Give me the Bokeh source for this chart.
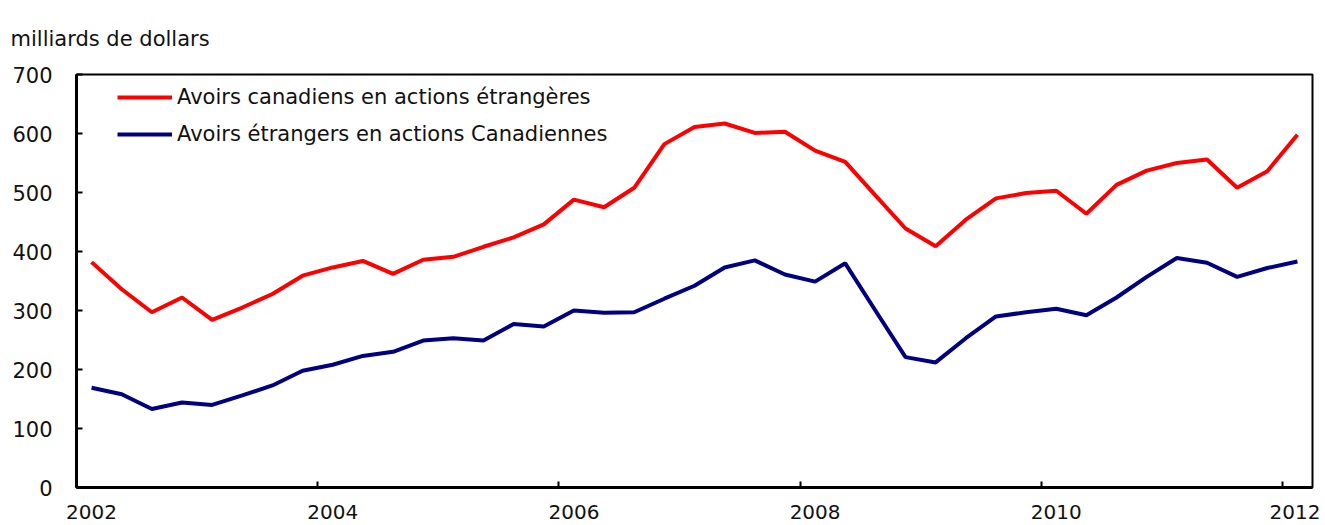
from bokeh.plotting import figure
from bokeh.models import (FixedTicker, Legend, LegendItem, Title,
                          Range1d, CustomJSTickFormatter)
from bokeh.embed import file_html
from bokeh.resources import INLINE

# ---- data (quarterly, 2002 Q1 to 2012 Q1), billions of dollars ----
start_year = 2002
n_quarters = 41
canadian_foreign = [382, 336, 297, 322, 284, 305, 328, 359, 373, 384, 362,
                    386, 391, 408, 424, 446, 488, 475, 508, 582, 611,
                    617, 601, 603, 571, 552, 495, 439, 409, 454, 490,
                    499, 503, 464, 513, 537, 550, 556, 508, 536, 598]
foreign_canadian = [169, 158, 133, 144, 140, 156, 173, 198, 208, 223, 230,
                    249, 253, 249, 277, 273, 300, 296, 297, 320, 342,
                    373, 385, 361, 349, 380, 300, 221, 212, 253, 290,
                    297, 303, 292, 322, 357, 389, 381, 357, 372, 383]
tick_years = [2002, 2004, 2006, 2008, 2010, 2012]
y_ticks = [0, 100, 200, 300, 400, 500, 600, 700]
name_red = "Avoirs canadiens en actions étrangères"
name_blue = "Avoirs étrangers en actions Canadiennes"
y_title = "milliards de dollars"

# quarter mid-points as fractional years
x = [start_year + i / 4 + 0.125 for i in range(n_quarters)]
label_pos = [y + 0.125 for y in tick_years]

FONT = "DejaVu Sans"
FS = "21px"

p = figure(width=1320, height=525, output_backend="svg", toolbar_location=None,
           x_range=Range1d(2002.0, 2012.25), y_range=Range1d(0, 700),
           min_border_left=76, min_border_right=8, min_border_top=74,
           min_border_bottom=38)
p.xgrid.visible = False
p.ygrid.visible = False
p.outline_line_color = "black"
p.outline_line_width = 2
p.background_fill_color = "white"
p.border_fill_color = "white"

xa = p.below[0]
ya = p.left[0]

# unit label above the y axis
t = Title(text=y_title, align="left", text_font=FONT, text_font_size=FS,
          text_font_style="normal", text_color="#111111", offset=-66,
          standoff=48)
p.add_layout(t, "above")

# y axis
ya.ticker = FixedTicker(ticks=y_ticks)
ya.axis_line_width = 3
ya.axis_line_color = "black"
ya.major_tick_in = 6
ya.major_tick_out = 0
ya.major_tick_line_width = 2
ya.minor_tick_line_color = None
ya.major_label_standoff = 24
ya.major_label_text_font = FONT
ya.major_label_text_font_size = FS
ya.major_label_text_color = "#111111"

# x axis: labels centred on first quarter of each year,
# tick marks (minor ticks) at year boundaries
xa.ticker = FixedTicker(ticks=label_pos, minor_ticks=tick_years)
xa.formatter = CustomJSTickFormatter(code="return String(Math.floor(tick));")
xa.axis_line_width = 3
xa.axis_line_color = "black"
xa.major_tick_line_color = None
xa.major_tick_in = 0
xa.major_tick_out = 0
xa.minor_tick_line_color = "black"
xa.minor_tick_line_width = 2
xa.minor_tick_in = 6
xa.minor_tick_out = 0
xa.major_label_standoff = 17
xa.major_label_text_font = FONT
xa.major_label_text_font_size = "20px"
xa.major_label_text_color = "#111111"

r1 = p.line(x, canadian_foreign, line_color="#FF0000", line_width=4)
r2 = p.line(x, foreign_canadian, line_color="#000080", line_width=4)

legend = Legend(items=[LegendItem(label=name_red, renderers=[r1]),
                       LegendItem(label=name_blue, renderers=[r2])],
                location=(41, 341), padding=0, margin=0, spacing=13,
                glyph_width=55, glyph_height=24, label_height=24,
                label_standoff=5, label_text_font=FONT, label_text_font_size=FS,
                label_text_color="#111111", background_fill_alpha=0,
                border_line_color=None)
p.add_layout(legend, "center")

open("out.html", "w").write(file_html(p, INLINE))
